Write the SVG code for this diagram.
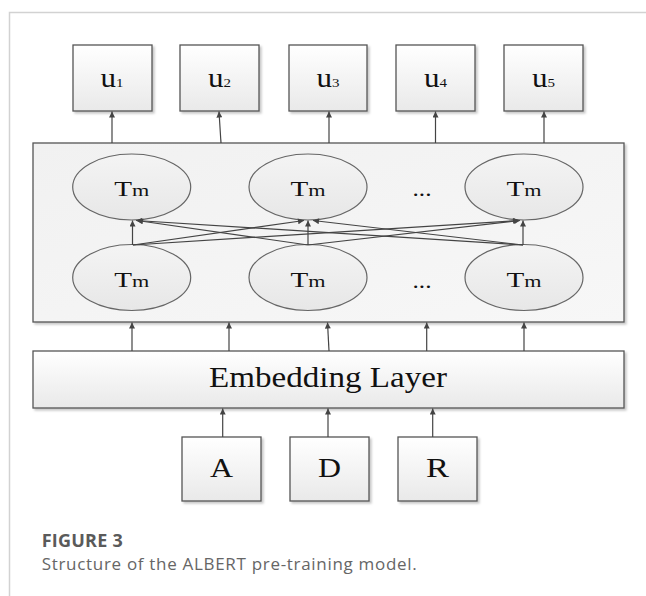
<svg xmlns="http://www.w3.org/2000/svg" width="646" height="596" viewBox="0 0 646 596">
<defs>
<linearGradient id="gBox" x1="0" y1="0" x2="0" y2="1"><stop offset="0" stop-color="#ffffff"/><stop offset="1" stop-color="#e9e9e9"/></linearGradient>
<linearGradient id="gBig" x1="0" y1="0" x2="1" y2="1"><stop offset="0" stop-color="#f1f1f1"/><stop offset="1" stop-color="#f7f7f7"/></linearGradient>
<linearGradient id="gEll" x1="0" y1="0" x2="0" y2="1"><stop offset="0" stop-color="#f4f4f4"/><stop offset="1" stop-color="#e7e7e7"/></linearGradient>
<filter id="sh" x="-10%" y="-10%" width="130%" height="130%"><feDropShadow dx="2" dy="2" stdDeviation="1.2" flood-color="#000" flood-opacity="0.22"/></filter>
<marker id="ah" viewBox="0 0 10 10" refX="10" refY="5" markerWidth="7" markerHeight="6" markerUnits="userSpaceOnUse" orient="auto"><path d="M0,0 L10,5 L0,10 z" fill="#444"/></marker>
</defs>
<style>
.box{fill:url(#gBox);stroke:#555;stroke-width:1.3;filter:url(#sh)}
.big{fill:url(#gBig);stroke:#555;stroke-width:1.3;filter:url(#sh)}
.ell{fill:url(#gEll);stroke:#666;stroke-width:1.2}
.lbl{font-family:"Liberation Serif","Times New Roman",serif;fill:#111;text-anchor:middle}
.con line{stroke:#444;stroke-width:1.2;marker-end:url(#ah)}
.frame{stroke:#d2d2d2;stroke-width:1.5;fill:none}
.cap{font-family:"Open Sans","Noto Sans",sans-serif}
</style>
<path class="frame" d="M9.5,596 V12.5 H646"/>

<g id="u1"><rect class="box" x="73" y="45" width="79" height="66"/><text class="lbl" x="112" y="87.3" font-size="27" textLength="23" lengthAdjust="spacingAndGlyphs">u<tspan font-size="13">1</tspan></text></g>
<g id="u2"><rect class="box" x="180" y="45" width="79" height="66"/><text class="lbl" x="219.5" y="87.3" font-size="27" textLength="23" lengthAdjust="spacingAndGlyphs">u<tspan font-size="13">2</tspan></text></g>
<g id="u3"><rect class="box" x="289" y="45" width="78" height="66"/><text class="lbl" x="328" y="87.3" font-size="27" textLength="23" lengthAdjust="spacingAndGlyphs">u<tspan font-size="13">3</tspan></text></g>
<g id="u4"><rect class="box" x="396" y="45" width="79" height="66"/><text class="lbl" x="435.5" y="87.3" font-size="27" textLength="23" lengthAdjust="spacingAndGlyphs">u<tspan font-size="13">4</tspan></text></g>
<g id="u5"><rect class="box" x="504" y="45" width="79" height="66"/><text class="lbl" x="543.5" y="87.3" font-size="27" textLength="23" lengthAdjust="spacingAndGlyphs">u<tspan font-size="13">5</tspan></text></g>

<g id="transformer-block"><rect class="big" x="33" y="143" width="591" height="179"/></g>

<g id="tm-top-1"><ellipse class="ell" cx="131.7" cy="187" rx="59" ry="33"/><text class="lbl" x="131.7" y="195.7" font-size="21" textLength="35" lengthAdjust="spacingAndGlyphs">T<tspan font-size="16">m</tspan></text></g>
<g id="tm-top-2"><ellipse class="ell" cx="308" cy="187" rx="59" ry="33"/><text class="lbl" x="308" y="195.7" font-size="21" textLength="35" lengthAdjust="spacingAndGlyphs">T<tspan font-size="16">m</tspan></text></g>
<g id="dots-top"><text class="lbl" x="422" y="195.5" font-size="21" textLength="19" lengthAdjust="spacingAndGlyphs">...</text></g>
<g id="tm-top-3"><ellipse class="ell" cx="524" cy="187" rx="59" ry="33"/><text class="lbl" x="524" y="195.7" font-size="21" textLength="35" lengthAdjust="spacingAndGlyphs">T<tspan font-size="16">m</tspan></text></g>

<g id="tm-bot-1"><ellipse class="ell" cx="131.7" cy="277.5" rx="59" ry="33"/><text class="lbl" x="131.7" y="286.7" font-size="21" textLength="35" lengthAdjust="spacingAndGlyphs">T<tspan font-size="16">m</tspan></text></g>
<g id="tm-bot-2"><ellipse class="ell" cx="308" cy="277.5" rx="59" ry="33"/><text class="lbl" x="308" y="286.7" font-size="21" textLength="35" lengthAdjust="spacingAndGlyphs">T<tspan font-size="16">m</tspan></text></g>
<g id="dots-bot"><text class="lbl" x="422" y="287.5" font-size="21" textLength="19" lengthAdjust="spacingAndGlyphs">...</text></g>
<g id="tm-bot-3"><ellipse class="ell" cx="524" cy="277.5" rx="59" ry="33"/><text class="lbl" x="524" y="286.7" font-size="21" textLength="35" lengthAdjust="spacingAndGlyphs">T<tspan font-size="16">m</tspan></text></g>

<g id="embedding"><rect class="box" x="33" y="351" width="591" height="57"/><text class="lbl" x="328" y="387.3" font-size="29" textLength="238" lengthAdjust="spacingAndGlyphs">Embedding Layer</text></g>

<g id="A"><rect class="box" x="182" y="437" width="79" height="64"/><text class="lbl" x="221.5" y="477" font-size="27" textLength="23" lengthAdjust="spacingAndGlyphs">A</text></g>
<g id="D"><rect class="box" x="290" y="437" width="79" height="64"/><text class="lbl" x="329.5" y="477" font-size="27" textLength="23" lengthAdjust="spacingAndGlyphs">D</text></g>
<g id="R"><rect class="box" x="398" y="437" width="79" height="64"/><text class="lbl" x="437.5" y="477" font-size="27" textLength="23" lengthAdjust="spacingAndGlyphs">R</text></g>

<g id="connectors" class="con">
<line x1="112" y1="143" x2="112" y2="111.5"/>
<line x1="221" y1="143" x2="219" y2="111.5"/>
<line x1="329" y1="143" x2="329" y2="111.5"/>
<line x1="435.5" y1="143" x2="435.5" y2="111.5"/>
<line x1="544" y1="143" x2="544" y2="111.5"/>

<line x1="132.5" y1="245" x2="132.5" y2="220.5"/>
<line x1="308" y1="245" x2="308" y2="220.5"/>
<line x1="523" y1="245" x2="523" y2="220.5"/>
<line x1="133" y1="245" x2="304" y2="220.5"/>
<line x1="133" y1="245" x2="519" y2="220.5"/>
<line x1="308" y1="245" x2="137" y2="220.5"/>
<line x1="308" y1="245" x2="520" y2="220.5"/>
<line x1="523" y1="245" x2="136" y2="220.5"/>
<line x1="523" y1="245" x2="313" y2="220.5"/>

<line x1="132" y1="351" x2="132" y2="322.5"/>
<line x1="229" y1="351" x2="229" y2="322.5"/>
<line x1="329" y1="351" x2="327.5" y2="322.5"/>
<line x1="426.7" y1="351" x2="426.7" y2="322.5"/>
<line x1="524" y1="351" x2="524" y2="322.5"/>

<line x1="222.7" y1="437" x2="222.7" y2="408.5"/>
<line x1="328" y1="437" x2="328" y2="408.5"/>
<line x1="432.7" y1="437" x2="432.7" y2="408.5"/>
</g>

<text class="cap" x="41.7" y="547" font-size="18" font-weight="700" fill="#5a5a5a" textLength="81">FIGURE 3</text>
<text class="cap" x="41.7" y="570" font-size="17" fill="#666" textLength="375">Structure of the ALBERT pre-training model.</text>
</svg>
